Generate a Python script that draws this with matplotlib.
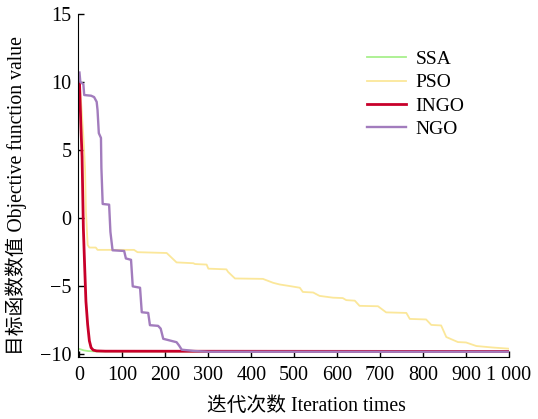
import numpy as np
import matplotlib.pyplot as plt

plt.rcParams['font.family'] = ['Liberation Serif', 'Noto Sans CJK SC']
plt.rcParams['axes.unicode_minus'] = True

# convergence curves (iteration, objective value)
ssa_iter = [0, 10, 20, 40, 1000]
ssa_val = [-9.6, -9.7, -9.75, -9.78, -9.78]

pso_iter = [0, 5, 10, 13, 15, 19, 23, 38, 42, 127, 135, 203, 226, 265, 269, 296, 300,
            342, 346, 362, 427, 451, 466, 490, 513, 520, 544, 559, 590, 613, 621, 641,
            652, 695, 714, 761, 769, 807, 819, 842, 854, 881, 900, 924, 962, 997, 1000]
pso_val = [10.0, 8.0, 5.5, 3.6, 0.5, -1.96, -2.15, -2.15, -2.32, -2.32, -2.49, -2.55, -3.24,
           -3.3, -3.36, -3.4, -3.7, -3.75, -3.94, -4.42, -4.45, -4.74, -4.86, -4.98, -5.1,
           -5.41, -5.45, -5.7, -5.83, -5.86, -6.01, -6.05, -6.43, -6.46, -6.91, -6.95, -7.39,
           -7.43, -7.83, -7.87, -8.72, -9.09, -9.12, -9.38, -9.49, -9.57, -9.58]

ingo_iter = [0, 3, 6, 9, 12, 15, 19, 23, 27, 32, 40, 60, 1000]
ingo_val = [10.0, 7.0, 4.5, -0.7, -3.5, -6.1, -7.8, -9.0, -9.5, -9.68, -9.74, -9.76, -9.78]

ngo_iter = [0, 2, 9, 11, 27, 34, 40, 42, 45, 50, 51, 54, 69, 72, 77, 104, 108, 120, 124,
            141, 145, 160, 164, 183, 189, 195, 226, 232, 238, 269, 300, 1000]
ngo_val = [10.7, 10.0, 9.85, 9.05, 9.0, 8.9, 8.55, 7.95, 6.25, 5.9, 3.7, 1.05, 1.0, -1.0,
           -2.35, -2.4, -2.95, -3.05, -5.0, -5.1, -6.9, -6.95, -7.85, -7.9, -8.1, -8.85,
           -9.1, -9.35, -9.65, -9.75, -9.8, -9.8]

fig = plt.figure(figsize=(5.38, 4.19), dpi=100)
ax = fig.add_axes([78.2 / 538, 1 - 356.5 / 419, (509 - 78.2) / 538, (356.5 - 14) / 419])

ax.plot(ssa_iter, ssa_val, color='#a8f08c', lw=1.3, label='SSA')
ax.plot(pso_iter, pso_val, color='#fbe79a', lw=1.3, label='PSO')
ax.plot(ingo_iter, ingo_val, color='#c8002a', lw=2.0, label='INGO')
ax.plot(ngo_iter, ngo_val, color='#a27cbd', lw=1.7, label='NGO')

ax.set_xlim(-3, 1000)
ax.set_ylim(-10.15, 15)
ax.set_xticks(np.arange(0, 1001, 100))
ax.set_xticklabels(['0', '100', '200', '300', '400', '500', '600', '700', '800', '900', '1 000'])
ax.set_yticks([-10, -5, 0, 5, 10, 15])

for side in ['top', 'right']:
    ax.spines[side].set_visible(False)
ax.tick_params(direction='in', length=4, width=1, labelsize=14.5, pad=5)
ax.tick_params(axis='x', pad=7)

ax.set_xlabel('迭代次数 Iteration times', fontsize=14.2)
ax.set_ylabel('目标函数数值 Objective function value', fontsize=14.2)
ax.xaxis.set_label_coords(0.529, -0.118)
ax.yaxis.set_label_coords(-0.119, 0.47)

ax.legend(loc='upper left', bbox_to_anchor=(0.63, 0.945), frameon=False, fontsize=14,
          handlelength=2.0, handletextpad=0.5, labelspacing=0.3)

fig.savefig('out.png', dpi=100)
